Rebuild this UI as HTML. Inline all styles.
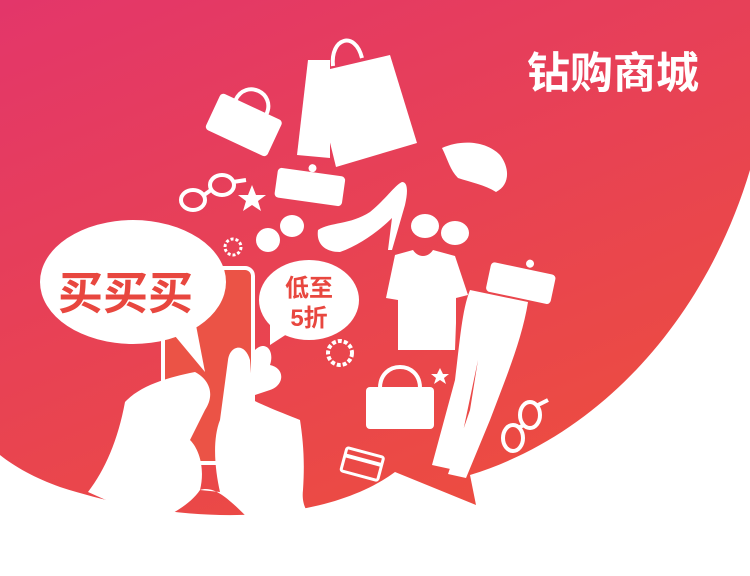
<!DOCTYPE html>
<html><head><meta charset="utf-8"><style>
html,body{margin:0;padding:0;background:#fff;}
svg{display:block;}
text{font-family:"Liberation Sans","Noto Sans CJK SC",sans-serif;font-weight:bold;}
</style></head><body>
<svg width="750" height="576" viewBox="0 0 750 576">
<defs>
<linearGradient id="bg" x1="0" y1="0" x2="0.6" y2="1">
<stop offset="0" stop-color="#e3366a"/>
<stop offset="1" stop-color="#ec4c41"/>
</linearGradient>
</defs>
<path fill="url(#bg)" d="M0,0 H750 V170 C705,320 600,435 470,475 L476,505 L395,472 C330,520 200,532 60,487 C35,478 15,467 0,455 Z"/>
<text x="527" y="88" font-size="43" fill="#fff">钻购商城</text>
<g fill="#fff">
 <polygon points="308,60 330,60 330,158 297,155"/>
 <polygon points="313,73 390,55 417,143 336,167"/>
 <path d="M333,66 C330,38 355,30 362,58" stroke="#fff" stroke-width="4" fill="none"/>
 <g transform="rotate(25 245 120)">
  <rect x="212" y="105" width="68" height="40" rx="4"/>
  <path d="M228,106 C228,82 262,82 262,106" stroke="#fff" stroke-width="4" fill="none"/>
 </g>
 <g transform="rotate(8 310 186)">
  <rect x="276" y="172" width="68" height="30" rx="4"/>
  <circle cx="310" cy="168" r="4"/>
 </g>
 <g stroke="#fff" stroke-width="4" fill="none">
  <ellipse cx="193" cy="200" rx="12" ry="10"/><ellipse cx="222" cy="185" rx="12" ry="10"/>
  <path d="M204,195 L211,190 M233,182 L246,180"/>
 </g>
 <polygon points="252,185 256,195 266,195 258,201 261,211 252,205 243,211 246,201 238,195 248,195"/>
 <ellipse cx="268" cy="240" rx="12" ry="12"/><ellipse cx="292" cy="226" rx="12" ry="11"/>
 <circle cx="233" cy="247" r="8" fill="none" stroke="#fff" stroke-width="3" stroke-dasharray="3 2"/>
 <path d="M318,230 C330,222 350,225 370,212 C385,200 395,185 402,182 C408,182 408,192 405,205 L392,250 L388,250 L392,218 C380,230 360,245 340,252 C325,252 316,244 318,230 Z"/>
 <path d="M442,148 C460,140 485,140 500,155 C510,168 510,185 496,192 C485,185 470,182 458,178 C450,170 448,160 442,148 Z"/>
 <ellipse cx="425" cy="226" rx="14" ry="12"/><ellipse cx="455" cy="233" rx="14" ry="12"/>
 <path d="M395,255 L413,250 C418,258 428,258 433,250 L455,256 L468,295 L456,298 L456,323 L455,350 L398,350 L398,300 L386,298 Z"/>
 <g transform="rotate(12 520 282)">
  <rect x="488" y="268" width="66" height="30" rx="4"/>
  <circle cx="526" cy="262" r="4"/>
 </g>
 <path d="M470,290 L528,302 C522,340 505,380 490,420 L466,478 L448,474 L470,410 L478,360 L455,470 L432,465 L455,380 C460,340 462,310 470,290 Z"/>
 <g>
  <rect x="366" y="387" width="68" height="42" rx="4"/>
  <path d="M380,388 C380,360 420,360 420,388" stroke="#fff" stroke-width="4" fill="none"/>
 </g>
 <polygon points="440,368 443,374 449,374 444,378 446,384 440,380 434,384 436,378 431,374 437,374"/>
 <circle cx="340" cy="353" r="12" fill="none" stroke="#fff" stroke-width="4" stroke-dasharray="4 2"/>
 <g transform="rotate(15 362 465)">
  <rect x="343" y="452" width="38" height="24" rx="2" fill="none" stroke="#fff" stroke-width="3"/>
  <rect x="343" y="458" width="38" height="4"/>
 </g>
 <path d="M400,475 C410,482 420,498 440,505 C455,510 455,520 440,520 L400,512 Z"/>
 <g stroke="#fff" stroke-width="4" fill="none">
  <ellipse cx="513" cy="438" rx="10" ry="13"/><ellipse cx="530" cy="415" rx="10" ry="13"/>
  <path d="M518,428 L524,425 M538,405 L548,400"/>
 </g>
</g>
<rect x="163" y="268" width="90" height="195" rx="8" fill="#eb5346" stroke="#fff" stroke-width="4"/>
<path fill="#fff" d="M88,492 C105,470 118,440 125,402 C140,386 165,378 195,372 C210,380 215,395 205,410 L190,440 C200,450 205,470 200,490 L220,492 C215,470 212,440 220,420 L228,360 C230,345 245,342 250,360 L253,400 C262,405 280,412 300,420 C303,440 305,460 303,490 C300,515 320,525 330,528 L255,525 C230,500 215,485 200,490 C190,505 170,515 155,522 Z"/>
<path fill="#fff" d="M255,350 C265,340 275,350 270,365 C285,368 285,385 270,390 L255,395 Z"/>
<g>
 <ellipse cx="133" cy="282" rx="93" ry="62" fill="#fff"/>
 <polygon points="170,330 205,372 195,320" fill="#fff"/>
 <text x="58" y="309" font-size="45" fill="#e8473f">买买买</text>
</g>
<g>
 <ellipse cx="309" cy="300" rx="50" ry="40" fill="#fff"/>
 <polygon points="270,320 270,345 290,332" fill="#fff"/>
 <text x="309" y="296" font-size="24" fill="#e8473f" text-anchor="middle">低至</text>
 <text x="309" y="326" font-size="24" fill="#e8473f" text-anchor="middle">5折</text>
</g>
</svg>
</body></html>
